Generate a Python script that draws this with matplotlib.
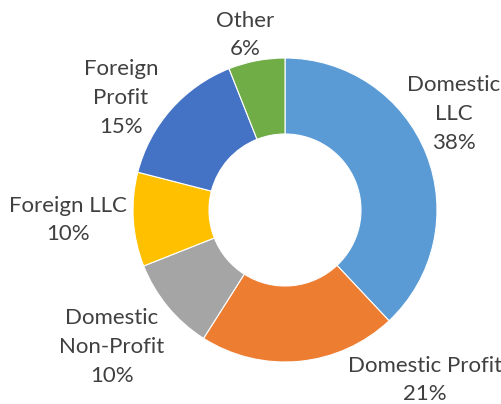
import matplotlib
matplotlib.use("Agg")
import matplotlib.pyplot as plt

# chart data
categories = ['Domestic LLC', 'Domestic Profit', 'Domestic Non-Profit',
              'Foreign LLC', 'Foreign Profit', 'Other']
shares = [38, 21, 10, 10, 15, 6]
label_text = ['Domestic\nLLC', 'Domestic Profit', 'Domestic\nNon-Profit',
              'Foreign LLC', 'Foreign\nProfit', 'Other']
colors = ['#5B9BD5', '#ED7D31', '#A5A5A5', '#FFC000', '#4472C4', '#70AD47']

# label placement (pixel coords, origin bottom-left)
label_pos = {
    'Domestic LLC': (454, 290),
    'Domestic Profit': (425, 24),
    'Domestic Non-Profit': (112, 57),
    'Foreign LLC': (68, 184),
    'Foreign Profit': (121, 306),
    'Other': (245, 369),
}

W, H = 502, 404
fig = plt.figure(figsize=(W / 100, H / 100), dpi=100)
ax = fig.add_axes([0, 0, 1, 1])

ax.pie(shares, colors=colors, startangle=90, counterclock=False,
       center=(285, 194), radius=152, frame=True,
       wedgeprops=dict(width=76, edgecolor='white', linewidth=0.8))
ax.set_xlim(0, W)
ax.set_ylim(0, H)
ax.set_aspect('equal')
ax.axis('off')

for cat, txt, val in zip(categories, label_text, shares):
    x, y = label_pos[cat]
    ax.text(x, y, f'{txt}\n{val}%', ha='center', va='center',
            fontsize=16, family='Lato', color='#404040', linespacing=1.55)

fig.savefig('out.png', dpi=100)
